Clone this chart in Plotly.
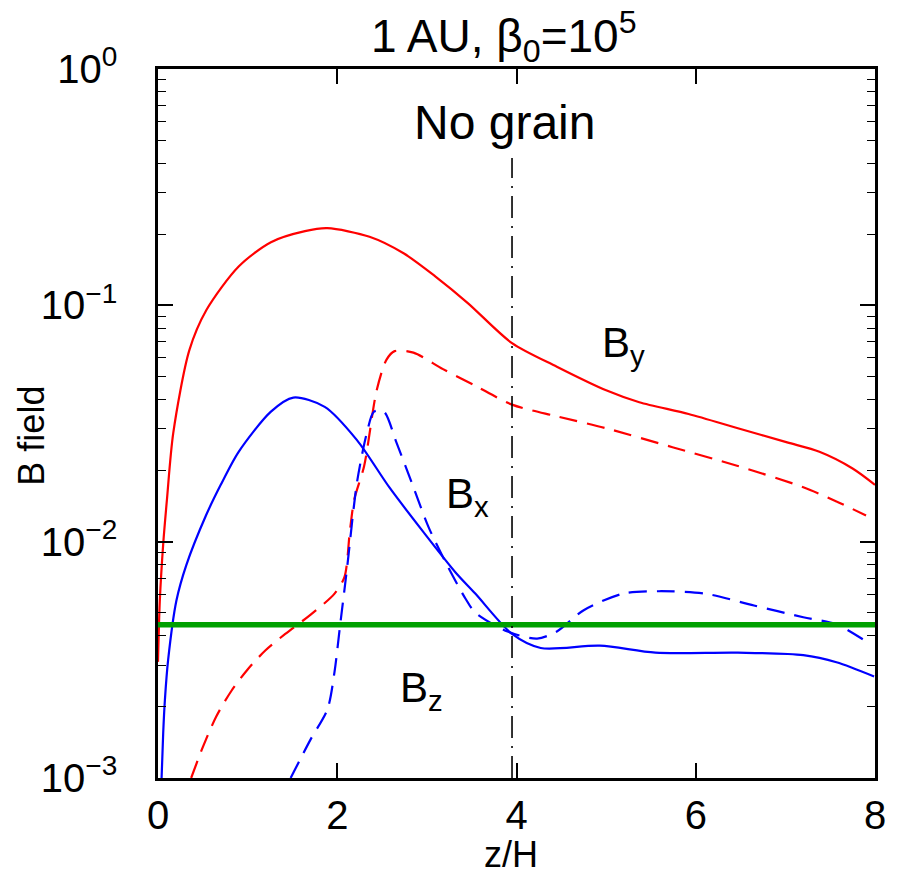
import plotly.graph_objects as go

# ---- data ----
BY_X = [0.0, 0.02, 0.06, 0.10, 0.17, 0.35, 0.54, 0.90, 1.26, 1.64, 1.89, 2.36, 2.74,
        3.10, 3.46, 3.95, 4.45, 5.00, 5.37, 5.92, 6.47, 7.02, 7.38, 7.75, 8.0]
BY_SOLID = [0.0031, 0.0056, 0.0100, 0.0151, 0.0288, 0.0646, 0.0955, 0.146, 0.185, 0.206,
            0.212, 0.195, 0.166, 0.132, 0.102, 0.0692, 0.0550, 0.0437, 0.0389, 0.0347,
            0.0302, 0.0263, 0.0240, 0.0204, 0.0174]

BY_DASH_X = [0.37, 0.50, 0.65, 0.82, 1.00, 1.20, 1.42, 1.70, 1.97, 2.08, 2.14, 2.19, 2.30,
             2.44, 2.55, 2.64, 2.85, 3.18, 3.54, 3.95, 4.45, 5.00, 5.74, 6.47, 7.20, 7.57, 7.90]
BY_DASH = [0.00100, 0.00135, 0.00182, 0.00234, 0.00288, 0.00347, 0.00407, 0.00490, 0.00603,
           0.00708, 0.0110, 0.0151, 0.0209, 0.0437, 0.0589, 0.0640, 0.0631, 0.0537, 0.0457,
           0.0380, 0.0339, 0.0302, 0.0251, 0.0209, 0.0170, 0.0148, 0.0129]

BX_X = [0.04, 0.058, 0.077, 0.113, 0.205, 0.315, 0.535, 0.70, 0.90, 1.26, 1.51, 1.86, 2.22,
        2.58, 2.96, 3.32, 3.54, 3.95, 4.27, 4.93, 5.55, 6.47, 7.20, 7.57, 7.99]
BX_SOLID = [0.00100, 0.00155, 0.00214, 0.00316, 0.00562, 0.00794, 0.0129, 0.0174, 0.0240,
            0.0355, 0.0407, 0.0372, 0.0269, 0.0170, 0.0110, 0.00741, 0.00603, 0.00407,
            0.00355, 0.00363, 0.00339, 0.00339, 0.00331, 0.00309, 0.00269]

BX_DASH_X = [1.48, 1.70, 1.89, 1.97, 2.03, 2.11, 2.22, 2.33, 2.41, 2.52, 2.66, 2.85, 3.02,
             3.24, 3.43, 3.54, 3.90, 4.23, 4.45, 4.75, 5.19, 5.59, 6.10, 6.65, 7.20, 7.57, 7.93]
BX_DASH = [0.00100, 0.00145, 0.00195, 0.00282, 0.00437, 0.00776, 0.0178, 0.0288, 0.0355,
           0.0355, 0.0263, 0.0170, 0.0115, 0.00776, 0.00575, 0.00501, 0.00417, 0.00389,
           0.00417, 0.00513, 0.00603, 0.00617, 0.00603, 0.00537, 0.00479, 0.00447, 0.00372]

BZ_X = [0.0, 8.0]
BZ = [0.00445, 0.00445]

VLINE_X = [3.95, 3.95]
VLINE_Y = [0.001, 0.42]

X_TICKS = [0, 2, 4, 6, 8]
Y_TICKS = [0.001, 0.01, 0.1, 1]
Y_TICK_TEXT = ["10<sup>−3</sup>", "10<sup>−2</sup>", "10<sup>−1</sup>", "10<sup>0</sup>"]
Y_MINOR = [m * 10.0 ** e for e in (-3, -2, -1) for m in range(2, 10)]

RED = "#ff0000"
BLUE = "#0000ff"
GREEN = "#00a000"
FONT = "Liberation Sans, Arial, Helvetica, sans-serif"

fig = go.Figure()
fig.add_trace(go.Scatter(x=BY_X, y=BY_SOLID, mode="lines",
                         line=dict(color=RED, width=2.2, shape="spline", smoothing=0.8)))
fig.add_trace(go.Scatter(x=BY_DASH_X, y=BY_DASH, mode="lines",
                         line=dict(color=RED, width=2.2, dash="18px,10px", shape="spline", smoothing=0.8)))
fig.add_trace(go.Scatter(x=BX_X, y=BX_SOLID, mode="lines",
                         line=dict(color=BLUE, width=2.2, shape="spline", smoothing=0.8)))
fig.add_trace(go.Scatter(x=BX_DASH_X, y=BX_DASH, mode="lines",
                         line=dict(color=BLUE, width=2.2, dash="18px,10px", shape="spline", smoothing=0.8)))
fig.add_trace(go.Scatter(x=BZ_X, y=BZ, mode="lines", line=dict(color=GREEN, width=5.5)))
fig.add_trace(go.Scatter(x=VLINE_X, y=VLINE_Y, mode="lines",
                         line=dict(color="black", width=1.6, dash="22px,8px,2px,8px")))

annots = [
    dict(text="1 AU, β<sub>0</sub>=10<sup>5</sup>", x=0.482, y=1.046, xref="paper", yref="paper",
         font=dict(size=46)),
    dict(text="No grain", x=3.87, y=0.924, xref="x", yref="paper", font=dict(size=48)),
    dict(text="B<sub>y</sub>", x=4.93, y=0.61, xref="x", yref="paper", xanchor="left",
         font=dict(size=42)),
    dict(text="B<sub>x</sub>", x=3.19, y=0.397, xref="x", yref="paper", xanchor="left",
         font=dict(size=42)),
    dict(text="B<sub>z</sub>", x=2.68, y=0.124, xref="x", yref="paper", xanchor="left",
         font=dict(size=42)),
    dict(text="B field", x=-0.177, y=0.483, xref="paper", yref="paper", textangle=-90,
         font=dict(size=36)),
    dict(text="z/H", x=0.492, y=-0.108, xref="paper", yref="paper", font=dict(size=36)),
]
for a in annots:
    a.setdefault("xanchor", "center")
    a.update(showarrow=False, yanchor="middle")
    a["font"].update(color="black", family=FONT)

fig.update_layout(
    width=898, height=874,
    margin=dict(l=158, r=12, t=69, b=96),
    paper_bgcolor="white", plot_bgcolor="white",
    showlegend=False,
    font=dict(family=FONT, color="black"),
    annotations=annots,
)
fig.update_xaxes(range=[0, 8], tickvals=X_TICKS, ticks="inside", ticklen=15, tickwidth=1.5,
                 tickcolor="black", showline=True, linecolor="black", linewidth=2.5,
                 mirror="ticks", showgrid=False, zeroline=False,
                 tickfont=dict(size=40, family=FONT), ticklabelstandoff=0)
fig.update_yaxes(type="log", range=[-3, 0], tickvals=Y_TICKS, ticktext=Y_TICK_TEXT,
                 ticks="inside", ticklen=15, tickwidth=1.5, tickcolor="black",
                 showline=True, linecolor="black", linewidth=2.5, mirror="ticks",
                 showgrid=False, zeroline=False,
                 tickfont=dict(size=40, family=FONT), ticklabelstandoff=30,
                 minor=dict(tickvals=Y_MINOR, ticks="inside", ticklen=8, tickwidth=1.2,
                            tickcolor="black", showgrid=False))

# remove the default page margin so the figure sits at the window's top-left corner
fig.write_html("out.html", config={"displayModeBar": False},
               post_script="document.body.style.margin='0';document.body.style.overflow='hidden';")
